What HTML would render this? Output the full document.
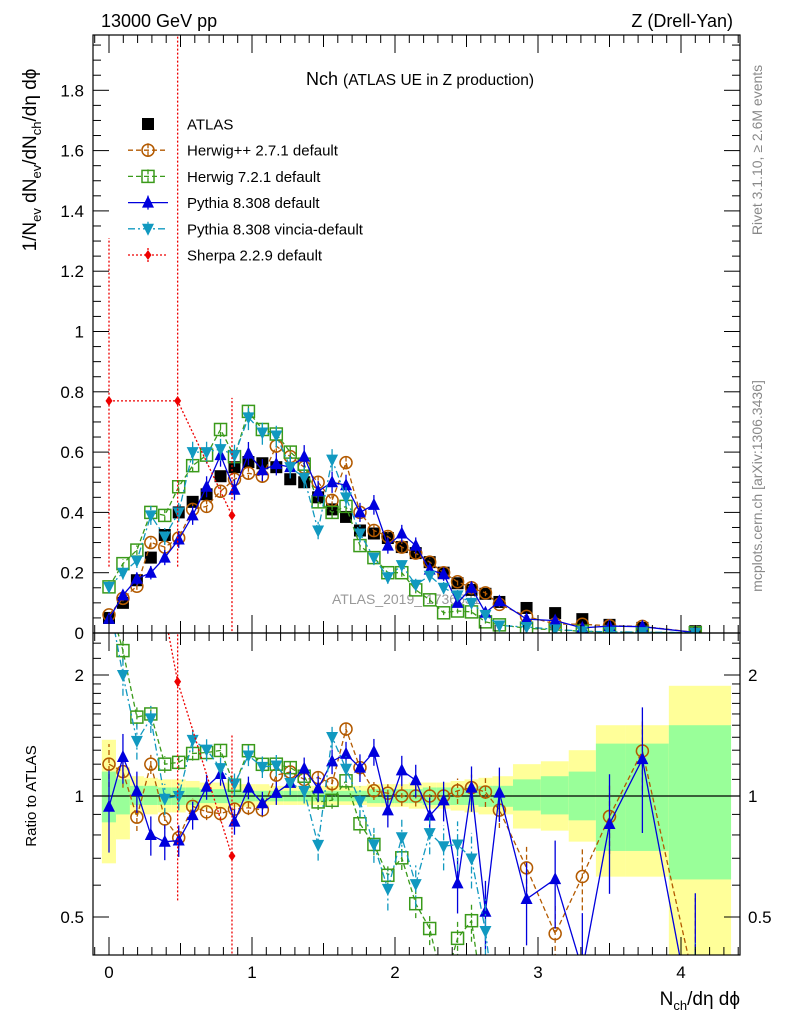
<!DOCTYPE html>
<html><head><meta charset="utf-8">
<style>
html,body{margin:0;padding:0;background:#fff;width:786px;height:1024px;overflow:hidden;}
svg{display:block;font-family:"Liberation Sans",sans-serif;}
</style></head>
<body>
<svg id="chart" width="786" height="1024" viewBox="0 0 786 1024" xmlns="http://www.w3.org/2000/svg">
<defs>
<clipPath id="clipMain"><rect x="93" y="35" width="647" height="598"/></clipPath>
<clipPath id="clipRatio"><rect x="93" y="633" width="647" height="322"/></clipPath>
</defs>
<text x="101" y="27" font-size="18">13000 GeV pp</text>
<text x="733" y="27" font-size="18" text-anchor="end">Z (Drell-Yan)</text>
<text x="420" y="85" text-anchor="middle" font-size="18">Nch <tspan font-size="15.5">(ATLAS UE in Z production)</tspan></text>
<text transform="translate(762,150) rotate(-90)" text-anchor="middle" font-size="14" fill="#888">Rivet 3.1.10, ≥ 2.6M events</text>
<text transform="translate(762,486) rotate(-90)" text-anchor="middle" font-size="14" fill="#888">mcplots.cern.ch [arXiv:1306.3436]</text>
<text x="332" y="604" font-size="14" fill="#999">ATLAS_2019_I1736531</text>
<text transform="translate(36,160) rotate(-90)" text-anchor="middle" font-size="19">1/N<tspan font-size="13" dy="5">ev</tspan><tspan dy="-5"> dN</tspan><tspan font-size="13" dy="5">ev</tspan><tspan dy="-5">/dN</tspan><tspan font-size="13" dy="5">ch</tspan><tspan dy="-5">/dη dϕ</tspan></text>
<text transform="translate(36,796) rotate(-90)" text-anchor="middle" font-size="15">Ratio to ATLAS</text>
<text x="740" y="1005" text-anchor="end" font-size="19">N<tspan font-size="13" dy="5">ch</tspan><tspan dy="-5">/dη dϕ</tspan></text>
<g id="bands" clip-path="url(#clipRatio)"></g>
<line x1="93" x2="740" y1="796" y2="796" stroke="#000" stroke-width="1.2"/>
<g id="mainMarks" clip-path="url(#clipMain)"></g>
<g id="ratioMarks" clip-path="url(#clipRatio)"></g>
<g id="axes"></g>
<g id="legend"></g>
</svg>
<script>
// ---- data ----
const xData = [0,0.0975,0.195,0.2925,0.39,0.4875,0.585,0.6825,0.78,0.8775,0.975,1.0725,1.17,1.2675,1.365,1.4625,1.56,1.6575,1.755,1.8525,1.95,2.0475,2.145,2.2425,2.34,2.4375,2.535,2.6325,2.73,2.92,3.12,3.31,3.5,3.73,4.1];
const atlas = [0.05,0.10,0.175,0.25,0.325,0.40,0.435,0.46,0.52,0.55,0.567,0.563,0.55,0.51,0.50,0.45,0.41,0.385,0.34,0.33,0.315,0.285,0.265,0.235,0.20,0.165,0.143,0.13,0.103,0.083,0.066,0.046,0.027,0.017,0.006];
const herwigpp = [0.06,0.115,0.155,0.30,0.285,0.315,0.41,0.42,0.47,0.51,0.53,0.52,0.62,0.585,0.55,0.50,0.44,0.565,0.40,0.34,0.32,0.285,0.265,0.235,0.20,0.17,0.15,0.133,0.095,0.055,0.030,0.029,0.024,0.022,0.002];
const herwig7 = [0.153,0.23,0.275,0.40,0.39,0.485,0.555,0.59,0.675,0.585,0.735,0.675,0.66,0.60,0.56,0.435,0.40,0.42,0.29,0.25,0.20,0.20,0.143,0.11,0.067,0.073,0.07,0.037,0.027,0.016,0.01,0.006,0.003,0.002,0.001];
const pythia = [0.047,0.125,0.18,0.20,0.25,0.31,0.39,0.485,0.59,0.475,0.595,0.54,0.56,0.55,0.585,0.47,0.50,0.49,0.40,0.425,0.29,0.33,0.29,0.21,0.195,0.10,0.15,0.067,0.105,0.046,0.041,0.017,0.023,0.021,0.0015];
const vincia = [0.153,0.20,0.24,0.39,0.32,0.40,0.60,0.60,0.61,0.59,0.715,0.665,0.655,0.55,0.515,0.34,0.575,0.45,0.33,0.25,0.185,0.225,0.16,0.19,0.15,0.125,0.10,0.06,0.025,0.02,0.012,0.006,0.004,0.003,0.001];
const sherpaX = [0,0.48,0.86];
const sherpa = [0.77,0.77,0.39];
const sherpaLo = [0.22,0.22,-0.1];
const sherpaHi = [1.31,2.1,0.78];
const bandYellowHi = [1.38,1.18,1.12,1.11,1.1,1.1,1.09,1.08,1.08,1.07,1.07,1.07,1.06,1.06,1.06,1.06,1.06,1.06,1.06,1.07,1.07,1.07,1.08,1.08,1.08,1.09,1.1,1.11,1.12,1.2,1.22,1.3,1.5,1.5,1.88];
const bandYellowLo = [0.68,0.78,0.9,0.9,0.91,0.91,0.92,0.93,0.93,0.94,0.94,0.94,0.95,0.95,0.95,0.95,0.95,0.95,0.95,0.94,0.94,0.94,0.93,0.93,0.93,0.92,0.91,0.9,0.9,0.83,0.82,0.77,0.63,0.63,0.3];
const bandGreenHi = [1.15,1.1,1.06,1.06,1.05,1.05,1.05,1.04,1.04,1.04,1.03,1.03,1.03,1.03,1.03,1.03,1.03,1.03,1.03,1.04,1.04,1.04,1.04,1.05,1.05,1.05,1.05,1.06,1.06,1.1,1.12,1.15,1.35,1.35,1.5];
const bandGreenLo = [0.86,0.9,0.95,0.95,0.95,0.95,0.95,0.96,0.96,0.96,0.97,0.97,0.97,0.97,0.97,0.97,0.97,0.97,0.97,0.96,0.96,0.96,0.96,0.95,0.95,0.95,0.95,0.94,0.94,0.92,0.9,0.87,0.73,0.73,0.62];
const yTicksMain = ["0","0.2","0.4","0.6","0.8","1","1.2","1.4","1.6","1.8"];
const xTickLabels = ["0","1","2","3","4"];
const ratioTickLabels = ["0.5","1","2"];
// ---- axes functions ----
const X = v => 109 + v*143;
const Y = v => 633 - v*301.5;
const R = r => 796 - Math.log2(r)*121;
const NS = "http://www.w3.org/2000/svg";
function mk(tag, attrs, parent){const e=document.createElementNS(NS,tag);for(const k in attrs)e.setAttribute(k,attrs[k]);parent.appendChild(e);return e;}
const mainG=document.getElementById('mainMarks'), ratioG=document.getElementById('ratioMarks'), bandG=document.getElementById('bands'), axG=document.getElementById('axes'), legG=document.getElementById('legend');

// bands
for(let i=0;i<xData.length;i++){
  const lo = i===0 ? -0.05 : (xData[i-1]+xData[i])/2;
  const hi = i===xData.length-1 ? 4.35 : (xData[i]+xData[i+1])/2;
  const ry=mk('rect',{x:X(lo),width:X(hi)-X(lo),y:R(bandYellowHi[i]),height:R(bandYellowLo[i])-R(bandYellowHi[i]),fill:'#ffff99'},bandG);
  
  
  const rg=mk('rect',{x:X(lo),width:X(hi)-X(lo),y:R(bandGreenHi[i]),height:R(bandGreenLo[i])-R(bandGreenHi[i]),fill:'#99ff99'},bandG);
  
  
}

function marker(g, type, x, y, color){
  let e;
  if(type==='square') e=mk('rect',{x:x-6,y:y-6,width:12,height:12,fill:'none',stroke:color,'stroke-width':1.5},g);
  else if(type==='fsquare') e=mk('rect',{x:x-6,y:y-6,width:12,height:12,fill:color},g);
  else if(type==='circle') e=mk('circle',{cx:x,cy:y,r:6,fill:'none',stroke:color,'stroke-width':1.5},g);
  else if(type==='tri') e=mk('polygon',{points:`${x},${y-7} ${x-6},${y+5} ${x+6},${y+5}`,fill:color},g);
  else if(type==='itri') e=mk('polygon',{points:`${x},${y+7} ${x-6},${y-5} ${x+6},${y-5}`,fill:color},g);
  else if(type==='diamond') e=mk('polygon',{points:`${x},${y-5} ${x-3.5},${y} ${x},${y+5} ${x+3.5},${y}`,fill:color},g);
  return e;
}
const series=[
  {name:'herwigpp',vals:herwigpp,color:'#b35a00',dash:'5,3',m:'circle',k:0.03},
  {name:'herwig7',vals:herwig7,color:'#3a9a1a',dash:'5,3',m:'square',k:0.03},
  {name:'pythia',vals:pythia,color:'#0000dd',dash:'',m:'tri',k:0.05},
  {name:'vincia',vals:vincia,color:'#1199c0',dash:'7,3,2,3',m:'itri',k:0.05}
];
atlas.forEach((v,i)=>{
  const e=marker(mainG,'fsquare',X(xData[i]),Y(v),'#000');
  
  
});
series.forEach(s=>{
  const gm=mk('g',{},mainG);  
  const gr=mk('g',{},ratioG);  
  const pts=s.vals.map((v,i)=>X(xData[i])+','+Y(v)).join(' ');
  const rpts=s.vals.map((v,i)=>X(xData[i])+','+R(Math.max(v/atlas[i],0.05))).join(' ');
  mk('polyline',{points:pts,fill:'none',stroke:s.color,'stroke-width':1.3,'stroke-dasharray':s.dash},gm);
  mk('polyline',{points:rpts,fill:'none',stroke:s.color,'stroke-width':1.3,'stroke-dasharray':s.dash},gr);
  s.vals.forEach((v,i)=>{
    const x=X(xData[i]), err=s.k*Math.sqrt(v);
    mk('line',{x1:x,x2:x,y1:Y(v-err),y2:Y(v+err),stroke:s.color,'stroke-width':1.3,'stroke-dasharray':s.dash},gm);
    const m=marker(gm,s.m,x,Y(v),s.color);
    
    
    const r=v/atlas[i], re=err/atlas[i];
    mk('line',{x1:x,x2:x,y1:R(Math.max(r-re,0.05)),y2:R(r+re),stroke:s.color,'stroke-width':1.3,'stroke-dasharray':s.dash},gr);
    const rm=marker(gr,s.m,x,R(Math.max(r,0.05)),s.color);
    
    
  });
});
{
  const gm=mk('g',{},mainG);  
  const gr=mk('g',{},ratioG);  
  const atl=[atlas[0],atlas[5],atlas[9]];
  mk('polyline',{points:sherpa.map((v,i)=>X(sherpaX[i])+','+Y(v)).join(' '),fill:'none',stroke:'#ee0000','stroke-width':1.3,'stroke-dasharray':'2,2'},gm);
  mk('polyline',{points:sherpa.map((v,i)=>X(sherpaX[i])+','+R(v/atl[i])).join(' '),fill:'none',stroke:'#ee0000','stroke-width':1.3,'stroke-dasharray':'2,2'},gr);
  sherpa.forEach((v,i)=>{
    const x=X(sherpaX[i]);
    mk('line',{x1:x,x2:x,y1:Y(sherpaLo[i]),y2:Y(sherpaHi[i]),stroke:'#ee0000','stroke-width':1.3,'stroke-dasharray':'2,2'},gm);
    const m=marker(gm,'diamond',x,Y(v),'#ee0000');
    
    
    const r=v/atl[i];
    mk('line',{x1:x,x2:x,y1:R(Math.max(sherpaLo[i],0.001)/atl[i]),y2:R(sherpaHi[i]/atl[i]),stroke:'#ee0000','stroke-width':1.3,'stroke-dasharray':'2,2'},gr);
    const rm=marker(gr,'diamond',x,R(r),'#ee0000');
    
    
  });
}
mk('rect',{x:93,y:35,width:647,height:598,fill:'none',stroke:'#000','stroke-width':1.2},axG);
mk('rect',{x:93,y:633,width:647,height:322,fill:'none',stroke:'#000','stroke-width':1.2},axG);
for(let v=0;v<=1.98;v+=0.05){
  const y=Y(v), major=Math.abs(v/0.2-Math.round(v/0.2))<1e-6, L=major?16:8;
  mk('line',{x1:93,x2:93+L,y1:y,y2:y,stroke:'#000'},axG);
  mk('line',{x1:740,x2:740-L,y1:y,y2:y,stroke:'#000'},axG);
}
yTicksMain.forEach(t=>{
  const tl=mk('text',{x:84,y:Y(parseFloat(t))+6,'text-anchor':'end','font-size':17},axG);
  tl.textContent=t;
  
  
});
for(let i=-1;i<=44;i++){
  const v=i/10, x=X(v); if(x<93||x>740) continue;
  const L = i%10===0?18:(i%5===0?12:8);
  mk('line',{x1:x,x2:x,y1:633,y2:633-L,stroke:'#000'},axG);
  mk('line',{x1:x,x2:x,y1:35,y2:35+L,stroke:'#000'},axG);
  mk('line',{x1:x,x2:x,y1:955,y2:955-L,stroke:'#000'},axG);
  mk('line',{x1:x,x2:x,y1:633,y2:633+L,stroke:'#000'},axG);
}
xTickLabels.forEach(t=>{
  const tl=mk('text',{x:X(parseFloat(t)),y:978,'text-anchor':'middle','font-size':17},axG);
  tl.textContent=t;
  
  
});
[0.4,0.5,0.6,0.7,0.8,0.9,1,1.1,1.2,1.3,1.4,1.5,1.6,1.7,1.8,1.9,2,2.2,2.4].forEach(v=>{
  const y=R(v), major=(v===0.5||v===1||v===2), L=major?16:8;
  if(y<633||y>955) return;
  mk('line',{x1:93,x2:93+L,y1:y,y2:y,stroke:'#000'},axG);
  mk('line',{x1:740,x2:740-L,y1:y,y2:y,stroke:'#000'},axG);
});
ratioTickLabels.forEach(t=>{
  const y=R(parseFloat(t))+6;
  const a=mk('text',{x:84,y:y,'text-anchor':'end','font-size':17},axG);
  a.textContent=t;
  
  
  const b=mk('text',{x:748,y:y,'text-anchor':'start','font-size':17},axG);
  b.textContent=t;
  
  
});
const legItems=[
  {t:'ATLAS',m:'fsquare',c:'#000',d:null},
  {t:'Herwig++ 2.7.1 default',m:'circle',c:'#b35a00',d:'5,3'},
  {t:'Herwig 7.2.1 default',m:'square',c:'#3a9a1a',d:'5,3'},
  {t:'Pythia 8.308 default',m:'tri',c:'#0000dd',d:''},
  {t:'Pythia 8.308 vincia-default',m:'itri',c:'#1199c0',d:'7,3,2,3'},
  {t:'Sherpa 2.2.9 default',m:'diamond',c:'#ee0000',d:'2,2'}
];
legItems.forEach((it,i)=>{
  const y=124+i*26.2;
  const g=mk('g',{},legG);
  
  
  if(it.d!==null){
    mk('line',{x1:128,x2:168,y1:y,y2:y,stroke:it.c,'stroke-width':1.3,'stroke-dasharray':it.d},g);
    mk('line',{x1:148,x2:148,y1:y-7,y2:y+7,stroke:it.c,'stroke-width':1.3,'stroke-dasharray':it.d},g);
  }
  marker(g,it.m,148,y,it.c);
  const tx=mk('text',{x:187,y:y+5.5,'font-size':15},g);
  tx.textContent=it.t;
});
</script>
</body></html>
